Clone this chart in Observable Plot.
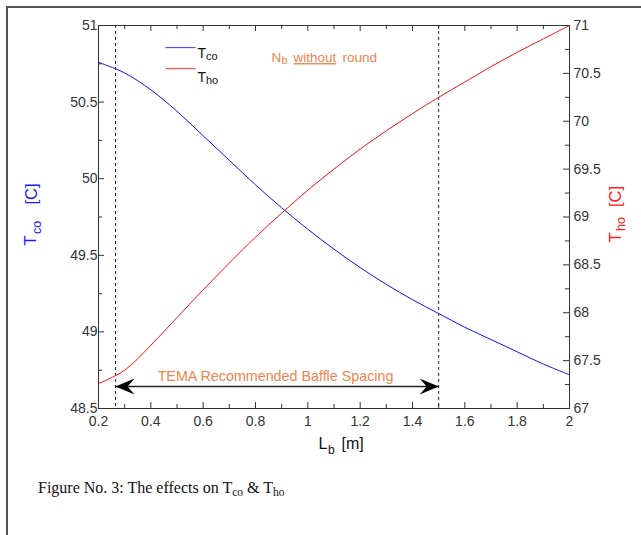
<!DOCTYPE html>
<html><head><meta charset="utf-8">
<script src="https://cdn.jsdelivr.net/npm/d3@7"></script>
<script src="https://cdn.jsdelivr.net/npm/@observablehq/plot@0.6"></script>
<style>
body{margin:0;background:#fff;}
#wrap{position:absolute;left:6px;top:6px;width:635px;height:529px;border-top:2px solid #555;border-left:2px solid #555;}
#chart{position:absolute;left:0;top:0;}
#caption{position:absolute;left:30px;top:471px;font-family:"Liberation Serif","Times New Roman",serif;font-size:16px;color:#111;white-space:nowrap;}
#caption sub{font-size:72%;vertical-align:-3px;}
</style>
</head><body>
<div id="wrap"><div id="chart"></div>
<div id="caption">Figure No. 3: The effects on T<sub>co</sub> &amp; T<sub>ho</sub></div></div>
<script>
// ---- data ----
const Lb  = [0.2,0.3,0.4,0.5,0.6,0.7,0.8,0.9,1.0,1.1,1.2,1.3,1.4,1.5,1.6,1.7,1.8,1.9,2.0];
const Tco = [50.76,50.69,50.58,50.44,50.28,50.12,49.96,49.81,49.67,49.54,49.42,49.31,49.21,49.12,49.03,48.95,48.87,48.79,48.72];
const Tho = [67.26,67.40,67.66,67.95,68.24,68.52,68.79,69.04,69.28,69.50,69.71,69.90,70.08,70.25,70.41,70.57,70.72,70.86,71.00];
const xMajor = [0.2,0.4,0.6,0.8,1.0,1.2,1.4,1.6,1.8,2.0];
const xMinor = [0.3,0.5,0.7,0.9,1.1,1.3,1.5,1.7,1.9];
const leftMajor = [48.5,49,49.5,50,50.5,51];
const leftMinor = [48.75,49.25,49.75,50.25,50.75];
const rightMajor = [67,67.5,68,68.5,69,69.5,70,70.5,71];
const rightMinor = [67.25,67.75,68.25,68.75,69.25,69.75,70.25,70.75];
const leftDomain = [48.5, 51];
const rightDomain = [67, 71];
const tema = [0.265, 1.5];          // recommended baffle spacing limits
const arrowY = 48.644;
const legend = [
  {name:"T", sub:"co", color:"#5050ff", y:50.856},
  {name:"T", sub:"ho", color:"#ff5050", y:50.719}
];
const legendX = [0.456, 0.571];

// map right axis values to left scale
const toLeft = v => leftDomain[0] + (v - rightDomain[0]) * (leftDomain[1]-leftDomain[0])/(rightDomain[1]-rightDomain[0]);
const toRight = v => rightDomain[0] + (v - leftDomain[0]) * (rightDomain[1]-rightDomain[0])/(leftDomain[1]-leftDomain[0]);
const fmtR = v => String(Math.round(toRight(v)*100)/100);
const fmt = v => String(Math.round(v*100)/100);

const rows = Lb.map((l,i)=>({L:l, Tco:Tco[i], ThoL:toLeft(Tho[i])}));

const W = 633, H = 460, mL = 90, mR = 72, mT = 17, mB = 60;
const iW = W - mL - mR, iH = H - mT - mB;
const orange = "#f0844c";
const font = "'Liberation Sans', Arial, sans-serif";

const stealthLeft = {draw(c){ c.moveTo(0,0); c.lineTo(19,-8); c.lineTo(12,0); c.lineTo(19,8); c.closePath(); }};
const stealthRight = {draw(c){ c.moveTo(0,0); c.lineTo(-19,-8); c.lineTo(-12,0); c.lineTo(-19,8); c.closePath(); }};

const t = (s, o) => Plot.text([s], {text: d=>d, fontFamily: font, ...o});

const plot = Plot.plot({
  width: W, height: H,
  marginLeft: mL, marginRight: mR, marginTop: mT, marginBottom: mB,
  style: {fontFamily: font, background: "transparent", overflow: "visible"},
  x: {domain: [0.2, 2]},
  y: {domain: leftDomain},
  marks: [
    Plot.frame({stroke: "#333", strokeWidth: 1}),
    // ticks (inward)
    Plot.tickX(xMajor, {x: d=>d, insetTop: iH-6, stroke:"#333"}),
    Plot.tickX(xMinor, {x: d=>d, insetTop: iH-4, stroke:"#333"}),
    Plot.tickX(xMajor, {x: d=>d, insetBottom: iH-6, stroke:"#333"}),
    Plot.tickX(xMinor, {x: d=>d, insetBottom: iH-4, stroke:"#333"}),
    Plot.tickY(leftMajor, {y: d=>d, insetRight: iW-6, stroke:"#333"}),
    Plot.tickY(leftMinor, {y: d=>d, insetRight: iW-4, stroke:"#333"}),
    Plot.tickY(rightMajor.map(toLeft), {y: d=>d, insetLeft: iW-6, stroke:"#333"}),
    Plot.tickY(rightMinor.map(toLeft), {y: d=>d, insetLeft: iW-4, stroke:"#333"}),
    // tick labels
    Plot.axisX(xMajor, {tickSize: 0, tickPadding: 8, fontSize: 14, fill: "#333", label: null, tickFormat: fmt}),
    Plot.axisY(leftMajor, {anchor: "left", tickSize: 0, tickPadding: 1, fontSize: 14, fill: "#333", label: null, tickFormat: fmt}),
    Plot.axisY(rightMajor.map(toLeft), {anchor: "right", tickSize: 0, tickPadding: 4, fontSize: 14, fill: "#333", label: null, tickFormat: fmtR}),
    // dashed limits
    Plot.ruleX(tema, {x: d=>d, stroke: "#222", strokeWidth: 1, strokeDasharray: "3,3"}),
    // curves
    Plot.line(rows, {x: "L", y: "Tco", stroke: "#1010ff", strokeWidth: 1, curve: "catmull-rom"}),
    Plot.line(rows, {x: "L", y: "ThoL", stroke: "#ff1010", strokeWidth: 1, curve: "catmull-rom"}),
    // arrow
    Plot.link([tema], {x1: d=>d[0], x2: d=>d[1], y1: arrowY, y2: arrowY, stroke: "#222", strokeWidth: 1.5}),
    Plot.dot([tema[0]], {x: d=>d, y: arrowY, symbol: stealthLeft, fill: "#000", stroke: null}),
    Plot.dot([tema[1]], {x: d=>d, y: arrowY, symbol: stealthRight, fill: "#000", stroke: null}),
    // legend
    ...legend.map((g,i)=>[
      Plot.link([g], {x1: legendX[0], x2: legendX[1], y1: d=>d.y, y2: d=>d.y, stroke: g.color, strokeWidth: 1.2}),
      t(g.name, {frameAnchor:"top-left", dx: 99, dy: 23 + i*24, fontSize: 14, textAnchor:"start", fill:"#111"}),
      t(g.sub, {frameAnchor:"top-left", dx: 107.5, dy: 27 + i*24, fontSize: 11, textAnchor:"start", fill:"#111"})
    ]).flat(),
    // annotations
    t("N", {frameAnchor:"top-left", dx: 173, dy: 27, fontSize: 13.5, textAnchor:"start", fill: orange}),
    t("b", {frameAnchor:"top-left", dx: 183, dy: 31, fontSize: 11, textAnchor:"start", fill: orange}),
    t("without", {frameAnchor:"top-left", dx: 195, dy: 27, fontSize: 13.5, textAnchor:"start", fill: orange}),
    t("round", {frameAnchor:"top-left", dx: 244, dy: 27, fontSize: 13.5, textAnchor:"start", fill: orange}),
    t("TEMA Recommended Baffle Spacing", {frameAnchor:"top-left", dx: 177, dy: 345, fontSize: 14.3, textAnchor:"middle", fill: orange}),
    // x label
    t("L", {frameAnchor:"bottom-left", dx: 220, dy: 40, fontSize: 16, textAnchor:"start", fill:"#111"}),
    t("b", {frameAnchor:"bottom-left", dx: 229.5, dy: 45, fontSize: 12, textAnchor:"start", fill:"#111"}),
    t("[m]", {frameAnchor:"bottom-left", dx: 243, dy: 40, fontSize: 16, textAnchor:"start", fill:"#111"}),
    // left y label (rotated)
    t("T", {frameAnchor:"left", dx: -68, dy: 28.5, rotate: -90, fontSize: 16.5, textAnchor:"start", fill:"#1a1aff"}),
    t("co", {frameAnchor:"left", dx: -62, dy: 17, rotate: -90, fontSize: 12.5, textAnchor:"start", fill:"#1a1aff"}),
    t("[C]", {frameAnchor:"left", dx: -67, dy: -12.5, rotate: -90, fontSize: 16.5, textAnchor:"start", fill:"#1a1aff"}),
    // right y label (rotated)
    t("T", {frameAnchor:"right", dx: 46, dy: 25.5, rotate: -90, fontSize: 16.5, textAnchor:"start", fill:"#ff2020"}),
    t("ho", {frameAnchor:"right", dx: 51, dy: 14, rotate: -90, fontSize: 12.5, textAnchor:"start", fill:"#ff2020"}),
    t("[C]", {frameAnchor:"right", dx: 46, dy: -10, rotate: -90, fontSize: 16.5, textAnchor:"start", fill:"#ff2020"})
  ]
});
plot.querySelectorAll("text").forEach(el => {
  if (el.textContent === "without") el.style.textDecoration = "underline";
});
document.getElementById("chart").appendChild(plot);
</script>
</body></html>
